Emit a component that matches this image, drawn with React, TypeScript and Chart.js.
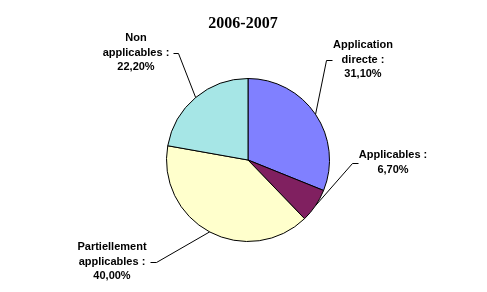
import React, { useEffect, useRef } from "react";
import { Chart, registerables } from "chart.js";

Chart.register(...registerables);

const TITLE = "2006-2007";
const categories = ["Application directe", "Applicables", "Partiellement applicables", "Non applicables"];
const values = [31.1, 6.7, 40.0, 22.2];
const valueLabels = ["31,10%", "6,70%", "40,00%", "22,20%"];
const labelLines = [
  ["Application", "directe :", "31,10%"],
  ["Applicables :", "6,70%"],
  ["Partiellement", "applicables :", "40,00%"],
  ["Non", "applicables :", "22,20%"],
];
const colors = ["#8080FF", "#802060", "#FFFFCC", "#A6E6E6"];

// layout of external labels: text centre x, first line y, corner of leader, tick end
const labelLayout = [
  { x: 363, y: 45, cx: 326, cy: 60, tx: 332 },
  { x: 393, y: 155, cx: 352, cy: 163, tx: 358 },
  { x: 112, y: 247, cx: 156, cy: 262, tx: 150 },
  { x: 136, y: 38, cx: 178, cy: 53, tx: 173 },
];

const labelPlugin = {
  id: "extLabels",
  afterDraw(chart: any) {
    const ctx = chart.ctx;
    ctx.save();
    ctx.fillStyle = "#000";
    ctx.textAlign = "center";
    ctx.textBaseline = "middle";
    ctx.font = "bold 16px 'Liberation Serif'";
    ctx.fillText(TITLE, 243, 24);
    const meta = chart.getDatasetMeta(0);
    ctx.font = "bold 11px 'Liberation Sans'";
    ctx.strokeStyle = "#000";
    ctx.lineWidth = 1;
    meta.data.forEach((arc: any, i: number) => {
      const p = arc.getProps(["x", "y", "startAngle", "endAngle", "outerRadius"], true);
      const mid = (p.startAngle + p.endAngle) / 2;
      const ex = p.x + Math.cos(mid) * p.outerRadius;
      const ey = p.y + Math.sin(mid) * p.outerRadius;
      const L = labelLayout[i];
      ctx.beginPath();
      ctx.moveTo(L.tx + 0.5, L.cy + 0.5);
      ctx.lineTo(L.cx + 0.5, L.cy + 0.5);
      ctx.lineTo(ex, ey);
      ctx.stroke();
      labelLines[i].forEach((t, j) => {
        ctx.fillText(t, L.x, L.y + j * 14.7);
      });
    });
    ctx.restore();
  },
};

export default function App() {
  const ref = useRef<HTMLCanvasElement>(null);
  useEffect(() => {
    document.body.style.margin = "0";
    const chart = new Chart(ref.current!, {
      type: "pie",
      data: {
        labels: categories,
        datasets: [
          {
            data: values,
            backgroundColor: colors,
            borderColor: "#000",
            borderWidth: 1,
          },
        ],
      },
      options: {
        responsive: false,
        animation: false,
        layout: { padding: { left: 166, right: 157, top: 78, bottom: 50 } },
        plugins: {
          legend: { display: false },
          tooltip: { enabled: false },
          title: { display: false },
        },
      },
      plugins: [labelPlugin],
    });
    return () => chart.destroy();
  }, []);
  return (
    <div style={{ width: 487, height: 292, background: "#fff" }}>
      <canvas ref={ref} width={487} height={292} />
    </div>
  );
}
